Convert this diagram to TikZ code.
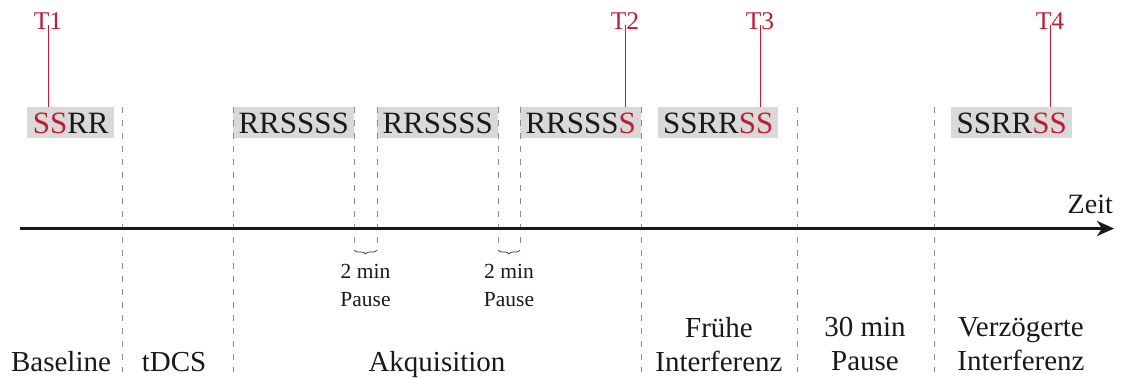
\documentclass[tikz,border=0pt]{standalone}
\usepackage{fontspec}
\setmainfont{Liberation Serif}
\usetikzlibrary{decorations.pathreplacing,arrows.meta}
\definecolor{tred}{RGB}{190,30,50}
\definecolor{boxgray}{RGB}{217,217,217}
\definecolor{dashgray}{RGB}{140,140,140}
\begin{document}
\begin{tikzpicture}[x=1pt,y=-1pt,
  seq/.style={fill=boxgray, inner sep=0pt, minimum height=31pt, text height=21pt, text depth=0pt,
    anchor=north west, font=\fontsize{31}{31}\selectfont, text=black!90},
  tlabel/.style={text=tred, inner sep=0pt, anchor=base, font=\fontsize{25.5}{25.5}\selectfont},
  tline/.style={draw=tred, line width=0.8pt},
  sep/.style={draw=dashgray, line width=0.9pt, dash pattern=on 6pt off 7pt},
  lab/.style={inner sep=0pt, align=center, text=black!90, font=\fontsize{29}{34}\selectfont},
  small/.style={inner sep=0pt, align=center, anchor=north, text=black!90, font=\fontsize{21.5}{28}\selectfont},
  brc/.style={draw=black!80, line width=0.7pt, decorate, decoration={brace, mirror, amplitude=4pt}}
]
\useasboundingbox (0,0) rectangle (1124,378);

% sequence boxes
\node[seq, minimum width=87pt]  (b1) at (27,107)  {{\color{tred}SS}RR};
\node[seq, minimum width=121pt] (b2) at (233,107) {RRSSSS};
\node[seq, minimum width=121pt] (b3) at (377,107) {RRSSSS};
\node[seq, minimum width=121pt] (b4) at (520,107) {RRSSS{\color{tred}S}};
\node[seq, minimum width=120pt] (b5) at (658,107) {SSRR{\color{tred}SS}};
\node[seq, minimum width=121pt] (b6) at (951,107) {SSRR{\color{tred}SS}};

% test time points
\node[tlabel] (t1) at (48,29)   {T1};
\node[tlabel] (t2) at (625,29)  {T2};
\node[tlabel] (t3) at (760,29)  {T3};
\node[tlabel] (t4) at (1050,29) {T4};
\draw[tline] (t1.south) ++(0,4pt) coordinate (t1a) (t1a) -- (t1a |- b1.north);
\draw[tline] (t2.south) ++(0,4pt) coordinate (t2a) (t2a) -- (t2a |- b4.north);
\draw[tline] (t3.south) ++(0,4pt) coordinate (t3a) (t3a) -- (t3a |- b5.north);
\draw[tline] (t4.south) ++(0,4pt) coordinate (t4a) (t4a) -- (t4a |- b6.north);

% dashed separators
\foreach \x in {122,233,641,797,934} \draw[sep] (\x,107) -- (\x,372);
\foreach \x in {354,377,498,520} \draw[sep] (\x,107) -- (\x,250);

% time axis
\coordinate (a0) at (20,228.5);
\coordinate (a1) at (1114,228.5);
\draw[line width=2.6pt, black!90, -{Stealth[length=17pt,width=15pt,inset=5pt]}] (a0) -- (a1);
\node[inner sep=0pt, anchor=base east, text=black!90, font=\fontsize{28}{28}\selectfont] (zeit) at (1113,213) {Zeit};

% pauses
\coordinate (p1a) at (354,250); \coordinate (p1b) at (377,250);
\coordinate (p2a) at (498,250); \coordinate (p2b) at (520,250);
\draw[brc] (p1a) -- (p1b);
\draw[brc] (p2a) -- (p2b);
\node[small] (pz1) at (365.5,264.5) {2 min\\Pause};
\node[small] (pz2) at (509,264.5) {2 min\\Pause};

% phase labels
\node[lab, anchor=base] (l1) at (61,371)  {Baseline};
\node[lab, anchor=base] (l2) at (174,371) {tDCS};
\node[lab, anchor=base] (l3) at (437,371) {Akquisition};
\node[lab, anchor=north] (l4) at (719,317.5) {Frühe\\Interferenz};
\node[lab, anchor=north] (l5) at (865,317.5) {30 min\\Pause};
\node[lab, anchor=north] (l6) at (1021,317.5) {Verzögerte\\Interferenz};
\end{tikzpicture}
\end{document}
